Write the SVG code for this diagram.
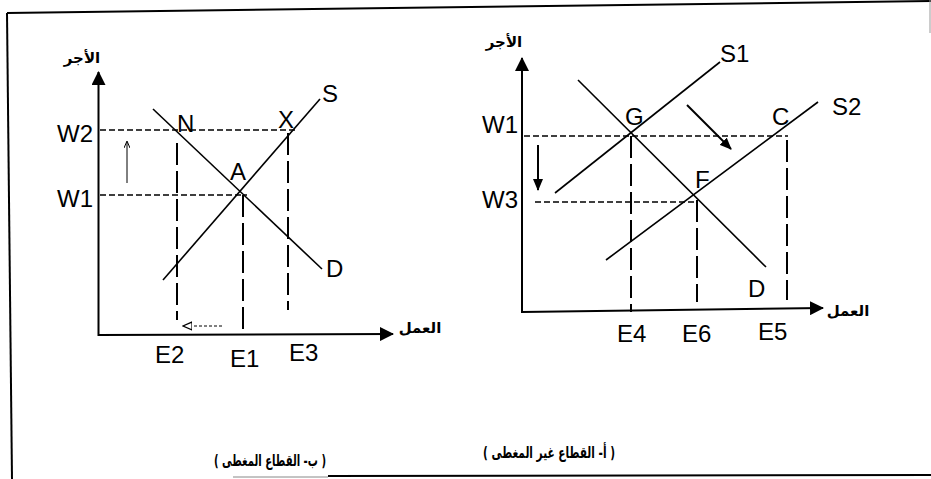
<svg xmlns="http://www.w3.org/2000/svg" width="931" height="479" viewBox="0 0 931 479">
<style>
.ln{stroke:#000;stroke-width:1.6;fill:none}
.ax{stroke:#000;stroke-width:2;fill:none}
.hd{stroke:#000;stroke-width:1.5;stroke-dasharray:6 3;fill:none}
.vd{stroke:#000;stroke-width:2;stroke-dasharray:22 6;fill:none}
.fr{stroke:#000;stroke-width:2;fill:none}
.lbl{font-family:"Liberation Sans",Arial,sans-serif;font-size:24px;fill:#000}
.ar{font-family:"DejaVu Sans","Noto Sans",sans-serif;font-weight:bold;font-size:15px;fill:#000}
.cap{font-family:"DejaVu Sans","Noto Sans",sans-serif;font-weight:bold;font-size:16px;fill:#000}
</style>
<defs>
<marker id="axArr" viewBox="0 0 14 14" refX="13" refY="7" markerWidth="14" markerHeight="14" orient="auto" markerUnits="userSpaceOnUse"><path d="M0,0 L14,7 L0,14 Z" fill="#000"/></marker>
<marker id="smArr" viewBox="0 0 12 10" refX="11" refY="5" markerWidth="12" markerHeight="10" orient="auto" markerUnits="userSpaceOnUse"><path d="M0,0 L12,5 L0,10 Z" fill="#000"/></marker>
<marker id="tnArr" viewBox="0 0 7 6" refX="6" refY="3" markerWidth="7" markerHeight="6" orient="auto" markerUnits="userSpaceOnUse"><path d="M0,0 L7,3 L0,6" fill="none" stroke="#000" stroke-width="1"/></marker>
<marker id="opArr" viewBox="0 0 10 10" refX="9" refY="5" markerWidth="10" markerHeight="10" orient="auto" markerUnits="userSpaceOnUse"><path d="M0,1 L9,5 L0,9 Z" fill="#fff" stroke="#000" stroke-width="1.2"/></marker>
</defs>
<rect width="931" height="479" fill="#fff"/>

<g id="frame">
<line class="fr" x1="7" y1="13" x2="931" y2="1"/>
<line class="fr" x1="7" y1="13" x2="12" y2="479"/>
<line x1="930" y1="0" x2="930" y2="33" stroke="#999" stroke-width="1"/>
<line x1="233" y1="477" x2="328" y2="477" stroke="#888" stroke-width="1"/>
<line class="fr" x1="328" y1="476" x2="931" y2="475"/>
</g>

<g id="chart-b">
<g id="b-axes">
<line class="ax" x1="98.5" y1="336" x2="98.5" y2="72" marker-end="url(#axArr)"/>
<line class="ax" x1="98" y1="335" x2="393" y2="334" marker-end="url(#axArr)"/>
<text class="ar" x="82" y="63" text-anchor="middle">الأجر</text>
<text class="ar" x="420" y="333" text-anchor="middle">العمل</text>
</g>
<g id="b-guides">
<line class="hd" x1="100" y1="130" x2="298" y2="130"/>
<line class="hd" x1="100" y1="195" x2="247" y2="195"/>
<line class="vd" x1="177" y1="143" x2="177" y2="320"/>
<line class="vd" x1="243" y1="195" x2="243" y2="335"/>
<line class="vd" x1="288" y1="133" x2="288" y2="310"/>
</g>
<g id="b-curves">
<line class="ln" x1="153" y1="109" x2="322" y2="269"/>
<line class="ln" x1="163" y1="280" x2="320" y2="99"/>
</g>
<g id="b-arrows">
<line x1="127" y1="183" x2="127" y2="142" stroke="#000" stroke-width="1" marker-end="url(#tnArr)"/>
<line x1="222" y1="326" x2="183" y2="326" stroke="#000" stroke-width="1" stroke-dasharray="3 2" marker-end="url(#opArr)"/>
</g>
<g id="b-labels">
<text class="lbl" x="57" y="142">W2</text>
<text class="lbl" x="57" y="207">W1</text>
<text class="lbl" x="177" y="132">N</text>
<text class="lbl" x="278" y="128">X</text>
<text class="lbl" x="230" y="180">A</text>
<text class="lbl" x="322" y="102">S</text>
<text class="lbl" x="326" y="277">D</text>
<text class="lbl" x="155" y="363">E2</text>
<text class="lbl" x="230" y="367">E1</text>
<text class="lbl" x="289" y="361">E3</text>
</g>
</g>

<g id="chart-a">
<g id="a-axes">
<line class="ax" x1="522" y1="313" x2="522" y2="58" marker-end="url(#axArr)"/>
<line class="ax" x1="522" y1="312" x2="823" y2="308" marker-end="url(#axArr)"/>
<text class="ar" x="504" y="47" text-anchor="middle">الأجر</text>
<text class="ar" x="848" y="316" text-anchor="middle">العمل</text>
</g>
<g id="a-guides">
<line class="hd" x1="524" y1="136" x2="788" y2="136"/>
<line class="hd" x1="535" y1="202" x2="698" y2="202"/>
<line class="vd" x1="631" y1="136" x2="631" y2="312"/>
<line class="vd" x1="697" y1="200" x2="697" y2="302"/>
<line class="vd" x1="787" y1="140" x2="787" y2="300"/>
</g>
<g id="a-curves">
<line class="ln" x1="555" y1="193" x2="720" y2="62"/>
<line class="ln" x1="606" y1="260" x2="818" y2="102"/>
<line class="ln" x1="578" y1="80" x2="766" y2="267"/>
</g>
<g id="a-arrows">
<line x1="538" y1="145" x2="538" y2="190" stroke="#000" stroke-width="2" marker-end="url(#smArr)"/>
<line x1="687" y1="105" x2="731" y2="149" stroke="#000" stroke-width="2" marker-end="url(#smArr)"/>
</g>
<g id="a-labels">
<text class="lbl" x="482" y="133">W1</text>
<text class="lbl" x="482" y="208">W3</text>
<text class="lbl" x="625" y="125">G</text>
<text class="lbl" x="695" y="188">F</text>
<text class="lbl" x="772" y="125">C</text>
<text class="lbl" x="748" y="297">D</text>
<text class="lbl" x="720" y="62">S1</text>
<text class="lbl" x="832" y="115">S2</text>
<text class="lbl" x="617" y="342">E4</text>
<text class="lbl" x="682" y="342">E6</text>
<text class="lbl" x="758" y="340">E5</text>
</g>
</g>

<g id="captions">
<text class="cap" x="270" y="466" text-anchor="middle" direction="rtl" textLength="112" lengthAdjust="spacingAndGlyphs">( ب- القطاع المغطى )</text>
<text class="cap" x="549" y="458" text-anchor="middle" direction="rtl" textLength="132" lengthAdjust="spacingAndGlyphs">( أ- القطاع غير المغطى )</text>
</g>
</svg>
